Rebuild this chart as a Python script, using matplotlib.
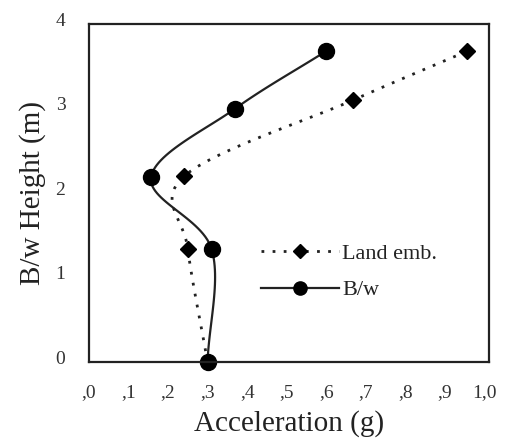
import numpy as np
import matplotlib.pyplot as plt
from matplotlib.transforms import ScaledTranslation

plt.rcParams['font.family'] = ['Liberation Serif', 'DejaVu Serif']

# height of each measuring point (m)
bw_height = [0.0, 1.34, 2.19, 3.0, 3.68]
land_height = [0.0, 1.34, 2.20, 3.10, 3.68]

# peak acceleration (g)
bw_acc = [0.30, 0.31, 0.157, 0.37, 0.60]
land_acc = [0.30, 0.25, 0.241, 0.668, 0.957]

xtick_vals = [0.0, 0.1, 0.2, 0.3, 0.4, 0.5, 0.6, 0.7, 0.8, 0.9, 1.0]
xtick_labels = [',0', ',1', ',2', ',3', ',4', ',5', ',6', ',7', ',8', ',9', '1,0']
ytick_vals = [0, 1, 2, 3, 4]


def smooth(xs, ys, n=30):
    # Catmull-Rom curve through the points
    p = np.column_stack([xs, ys]).astype(float)
    p = np.vstack([2 * p[0] - p[1], p, 2 * p[-1] - p[-2]])
    out = []
    for i in range(1, len(p) - 2):
        p0, p1, p2, p3 = p[i - 1], p[i], p[i + 1], p[i + 2]
        t = np.linspace(0, 1, n)[:, None]
        seg = 0.5 * ((2 * p1) + (-p0 + p2) * t
                     + (2 * p0 - 5 * p1 + 4 * p2 - p3) * t ** 2
                     + (-p0 + 3 * p1 - 3 * p2 + p3) * t ** 3)
        out.append(seg)
    c = np.vstack(out)
    return c[:, 0], c[:, 1]


fig = plt.figure(figsize=(5.07, 4.46), dpi=100)
ax = fig.add_axes([0.1755, 0.1883, 0.789, 0.7577])

lx, ly = smooth(land_acc, land_height)
bx, by = smooth(bw_acc, bw_height)

ax.plot(lx, ly, color='#222222', lw=2, linestyle=(0, (1, 3)))
ax.plot(land_acc, land_height, 'D', color='black', ms=8, ls='none')
ax.plot(bx, by, color='#222222', lw=1.6)
ax.plot(bw_acc, bw_height, 'o', color='black', ms=11.5, ls='none', clip_on=False)

# legend proxies
h1, = ax.plot([], [], color='#222222', lw=2, linestyle=(0, (1, 3)),
              marker='D', ms=7, mfc='black', mec='black')
h2, = ax.plot([], [], color='#222222', lw=1.6, marker='o', ms=9.5,
              mfc='black', mec='black')
ax.legend([h1, h2], ['Land emb.', 'B/w'], loc='upper left',
          bbox_to_anchor=(0.403, 0.383), frameon=False, fontsize=16,
          handlelength=3.5, handletextpad=0.15, labelspacing=0.7,
          borderpad=0, labelcolor='#222222')

ax.set_xlim(0, 1.012)
ax.set_ylim(0, 4)
ax.set_xticks(xtick_vals, xtick_labels)
ax.set_yticks(ytick_vals)
ax.tick_params(length=0, labelsize=14, colors='#333333')
ax.tick_params(axis='x', pad=16)
ax.tick_params(axis='y', pad=17)
# y tick labels sit a little above their tick
for lab in ax.get_yticklabels():
    lab.set_transform(lab.get_transform() + ScaledTranslation(0, 0.05, fig.dpi_scale_trans))
for s in ax.spines.values():
    s.set_linewidth(1.6)
    s.set_color('#222222')

ax.set_xlabel('Acceleration (g)', fontsize=21, labelpad=6, color='#222222')
ax.set_ylabel('B/w Height (m)', fontsize=21, labelpad=7, color='#222222')

fig.savefig('out.png', dpi=100)
